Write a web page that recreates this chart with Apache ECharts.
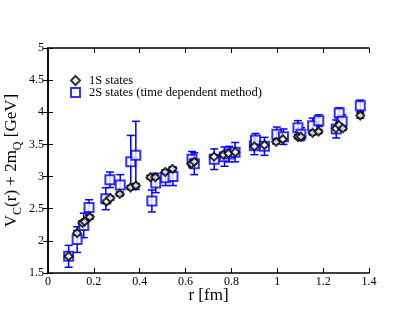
<!DOCTYPE html>
<html>
<head>
<meta charset="utf-8">
<script src="https://cdn.jsdelivr.net/npm/echarts@6/dist/echarts.min.js"></script>
<style>
  html, body { margin: 0; padding: 0; background: #fff; }
  #chart { width: 415px; height: 321px; }
</style>
</head>
<body>
<div id="chart"></div>
<script>
// 1S states (diamonds)
const r1S = [0.090, 0.127, 0.150, 0.160, 0.182, 0.255, 0.272, 0.313, 0.360, 0.383, 0.447, 0.468, 0.511, 0.543, 0.626, 0.638,
  0.724, 0.765, 0.787, 0.817, 0.900, 0.944, 0.995, 1.024, 1.090, 1.103, 1.154, 1.180, 1.256, 1.269, 1.286, 1.362];
const v1S = [1.76, 2.12, 2.28, 2.30, 2.37, 2.61, 2.665, 2.73, 2.83, 2.86, 2.99, 2.99, 3.07, 3.12, 3.20, 3.23,
  3.31, 3.34, 3.36, 3.38, 3.47, 3.49, 3.54, 3.58, 3.62, 3.62, 3.68, 3.70, 3.75, 3.80, 3.75, 3.95];
const e1S = [0.03, 0.04, 0.03, 0.03, 0.03, 0.03, 0.03, 0.03, 0.03, 0.03, 0.03, 0.03, 0.03, 0.03, 0.03, 0.03,
  0.03, 0.03, 0.03, 0.03, 0.03, 0.03, 0.03, 0.03, 0.03, 0.03, 0.03, 0.03, 0.03, 0.03, 0.03, 0.04];

// 2S states (squares, time dependent method)
const r2S = [0.090, 0.127, 0.156, 0.179, 0.252, 0.270, 0.315, 0.361, 0.383, 0.453, 0.470, 0.513, 0.545, 0.628, 0.638,
  0.725, 0.770, 0.790, 0.816, 0.900, 0.905, 0.944, 0.998, 1.027, 1.090, 1.103, 1.154, 1.181, 1.257, 1.270, 1.283, 1.362];
const v2S = [1.76, 2.02, 2.24, 2.52, 2.655, 2.95, 2.87, 3.23, 3.33, 2.62, 2.90, 2.98, 3.00, 3.27, 3.20,
  3.27, 3.31, 3.35, 3.38, 3.48, 3.57, 3.47, 3.66, 3.62, 3.76, 3.66, 3.79, 3.87, 3.74, 3.99, 3.86, 4.10];
const e2S = [0.17, 0.20, 0.19, 0.12, 0.17, 0.12, 0.16, 0.41, 0.53, 0.17, 0.15, 0.12, 0.14, 0.12, 0.17,
  0.16, 0.15, 0.12, 0.15, 0.14, 0.10, 0.14, 0.11, 0.12, 0.11, 0.10, 0.12, 0.09, 0.14, 0.08, 0.10, 0.09];

const xTicks = { min: 0, max: 1.4, interval: 0.2 };
const yTicks = { min: 1.5, max: 5, interval: 0.5 };

const FONT = 'Liberation Serif';
const BLUE = '#0000ff';

// error bar drawn through the axis scales
function errorBars(color) {
  return function (params, api) {
    const x = api.value(0);
    const top = api.coord([x, api.value(2)]);
    const bot = api.coord([x, api.value(1)]);
    const w = 4;
    const st = { stroke: color, lineWidth: 1.5 };
    return {
      type: 'group',
      children: [
        { type: 'line', shape: { x1: top[0], y1: top[1], x2: bot[0], y2: bot[1] }, style: st },
        { type: 'line', shape: { x1: top[0] - w, y1: top[1], x2: top[0] + w, y2: top[1] }, style: st },
        { type: 'line', shape: { x1: bot[0] - w, y1: bot[1], x2: bot[0] + w, y2: bot[1] }, style: st }
      ]
    };
  };
}

const bars1S = r1S.map((r, i) => [r, v1S[i] - e1S[i], v1S[i] + e1S[i]]);
const bars2S = r2S.map((r, i) => [r, v2S[i] - e2S[i], v2S[i] + e2S[i]]);

const tickStyle = { show: true, inside: true, length: 5, lineStyle: { color: '#000', width: 1 } };
const lineStyle = { show: true, lineStyle: { color: '#000', width: 1.5 } };

const chart = echarts.init(document.getElementById('chart'));
chart.setOption({
  animation: false,
  backgroundColor: '#fff',
  grid: { left: 48, right: 46, top: 48, bottom: 48, containLabel: false, outerBoundsMode: 'none' },
  legend: {
    data: ['1S states', '2S states (time dependent method)'],
    orient: 'vertical',
    left: 65,
    top: 69,
    itemWidth: 9,
    itemHeight: 9,
    itemGap: -1,
    textStyle: { fontFamily: FONT, fontSize: 12.5, color: '#000', padding: [0, 0, 0, 4] }
  },
  xAxis: [
    {
      type: 'value', ...xTicks,
      name: 'r [fm]', nameLocation: 'middle', nameGap: 14, nameMoveOverlap: false,
      nameTextStyle: { fontFamily: FONT, fontSize: 17, color: '#000' },
      axisLine: lineStyle, axisTick: tickStyle,
      axisLabel: { fontFamily: FONT, fontSize: 12, color: '#000', margin: 3 },
      splitLine: { show: false }
    },
    {
      type: 'value', ...xTicks, position: 'top',
      axisLine: lineStyle, axisTick: tickStyle,
      axisLabel: { show: false }, splitLine: { show: false }
    }
  ],
  yAxis: [
    {
      type: 'value', ...yTicks,
      name: 'V{sub|C}(r) + 2m{sub|Q} [GeV]', nameLocation: 'middle', nameGap: 24, nameMoveOverlap: false,
      nameTextStyle: {
        fontFamily: FONT, fontSize: 17, color: '#000',
        rich: { sub: { fontFamily: FONT, fontSize: 12, color: '#000', padding: [12, 0, 0, 0] } }
      },
      axisLine: lineStyle, axisTick: tickStyle,
      axisLabel: { fontFamily: FONT, fontSize: 12, color: '#000', margin: 4 },
      splitLine: { show: false }
    },
    {
      type: 'value', ...yTicks, position: 'right',
      axisLine: lineStyle, axisTick: tickStyle,
      axisLabel: { show: false }, splitLine: { show: false }
    }
  ],
  series: [
    {
      type: 'custom', name: 'err1S', renderItem: errorBars('#000'),
      data: bars1S, encode: { x: 0, y: [1, 2] }, z: 1, silent: true
    },
    {
      type: 'custom', name: 'err2S', renderItem: errorBars(BLUE),
      data: bars2S, encode: { x: 0, y: [1, 2] }, z: 1, silent: true
    },
    {
      type: 'scatter', name: '1S states',
      data: r1S.map((r, i) => [r, v1S[i]]),
      symbol: 'emptyDiamond', symbolSize: 8,
      itemStyle: { color: '#000', borderWidth: 1.2 }, z: 3
    },
    {
      type: 'scatter', name: '2S states (time dependent method)',
      data: r2S.map((r, i) => [r, v2S[i]]),
      symbol: 'emptyRect', symbolSize: 9,
      itemStyle: { color: BLUE, borderWidth: 1.2 }, z: 2
    }
  ]
});
</script>
</body>
</html>
